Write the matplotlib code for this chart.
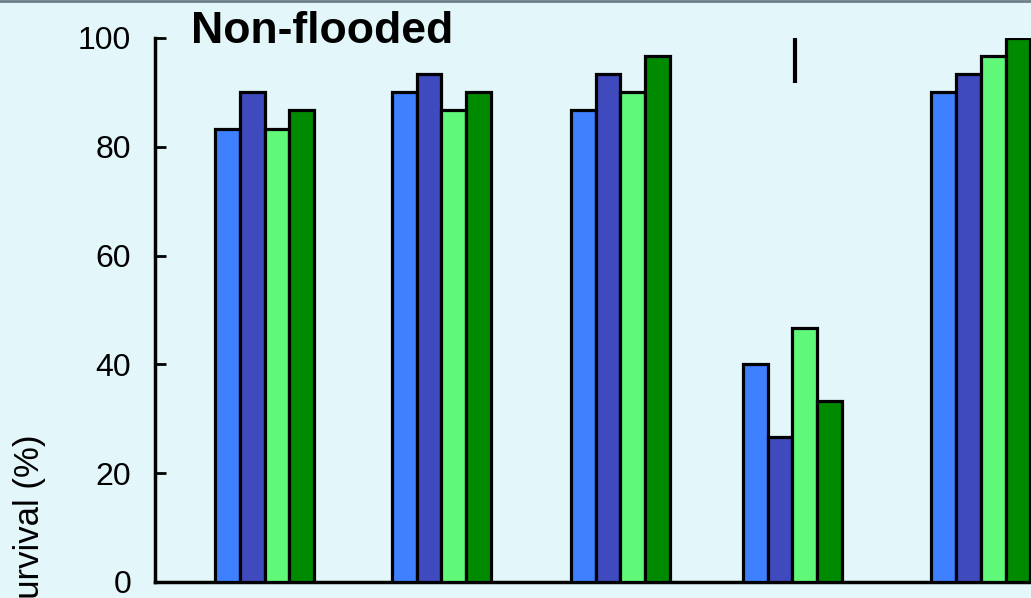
import matplotlib.pyplot as plt
import numpy as np

plt.rcParams['font.family'] = ['Liberation Sans', 'DejaVu Sans']

# survival (%) for 5 groups, 4 series each
series_a = [83.3, 90.0, 86.7, 40.0, 90.0]   # blue
series_b = [90.0, 93.3, 93.3, 26.7, 93.3]   # dark blue
series_c = [83.3, 86.7, 90.0, 46.7, 96.7]   # light green
series_d = [86.7, 90.0, 96.7, 33.3, 100.0]  # green
yticks = [0, 20, 40, 60, 80, 100]

# group centres are not quite evenly spaced in the original
group_x = np.array([0, 0.987, 1.986, 2.947, 4.0])

# stray vertical mark over group 4 (y from, y to)
mark_y = (91.7, 100)

colors = ['#3F80FF', '#3E4ABE', '#60F878', '#008A00']
bg = '#E3F6FA'

fig = plt.figure(figsize=(10.31, 5.98), dpi=100, facecolor=bg)
ax = fig.add_axes([0.150, 0.0268, 0.850, 0.9097], facecolor=bg)

w = 0.138
for j, vals in enumerate([series_a, series_b, series_c, series_d]):
    ax.bar(group_x + (j - 1.5) * w, vals, width=w, color=colors[j],
           edgecolor='black', linewidth=2.3, zorder=3)

mx = group_x[3] + 0.017
ax.plot([mx, mx], mark_y, color='black', lw=3,
        solid_capstyle='butt', clip_on=False)

ax.set_xlim(-0.615, 4.28)
ax.set_ylim(0, 100)
ax.set_yticks(yticks)
ax.set_xticks([])
ax.tick_params(axis='y', direction='in', length=8, width=2, labelsize=23, pad=17)
for s in ['top', 'right']:
    ax.spines[s].set_visible(False)
ax.spines['left'].set_linewidth(2.5)
ax.spines['bottom'].set_linewidth(2.5)

fig.text(191 / 1031, 1 - 43 / 598, 'Non-flooded', fontsize=32,
         fontweight='bold', ha='left', va='baseline')
fig.text(30 / 1031, 1 - 528 / 598, 'Survival (%)', fontsize=25,
         rotation=90, ha='center', va='center')

# thin border line on top
fig.add_artist(plt.Line2D([0, 1], [0.999, 0.999], transform=fig.transFigure,
                          color='#6F7F88', lw=2))

fig.savefig('out.png', dpi=100, facecolor=bg)
